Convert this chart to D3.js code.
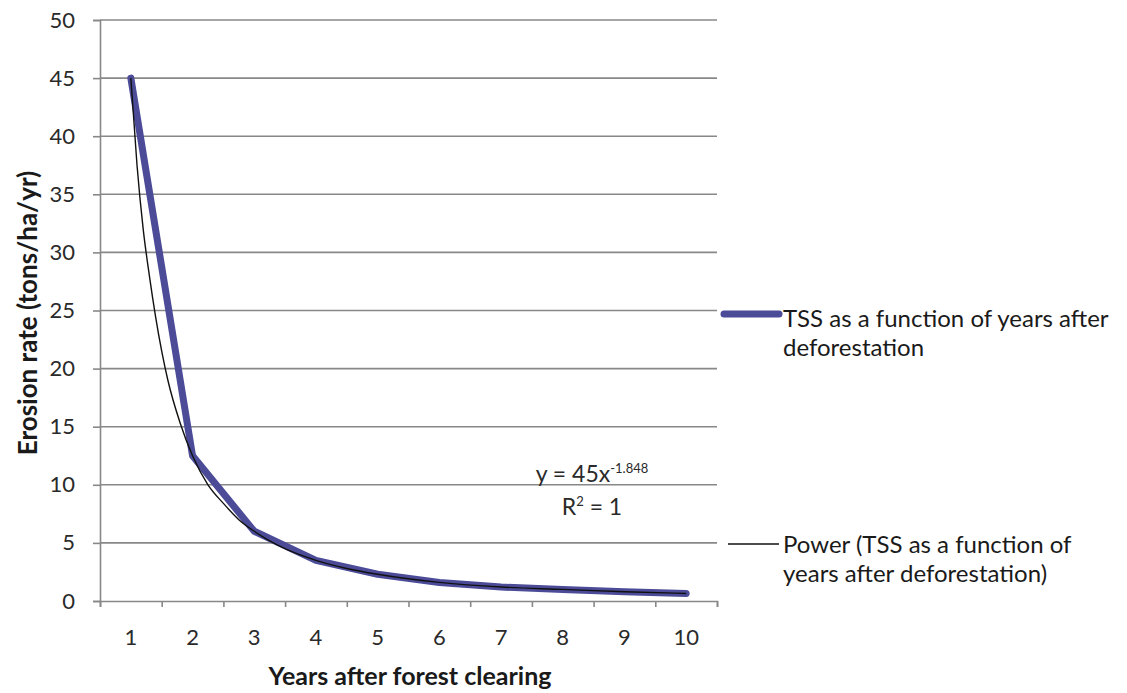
<!DOCTYPE html>
<html>
<head>
<meta charset="utf-8">
<script src="https://cdn.jsdelivr.net/npm/d3@7"></script>
<style>
  body { margin: 0; background: #fff; }
  svg { display: block; font-family: Lato, "Open Sans", sans-serif; }
</style>
</head>
<body>
<svg id="chart" width="1127" height="693"></svg>
<script>
// years after clearing and the TSS series
const years = [1, 2, 3, 4, 5, 6, 7, 8, 9, 10];
const tss = [45, 12.5, 6, 3.5, 2.3, 1.6, 1.2, 1.0, 0.8, 0.65];

// power trendline
const trendX = [1, 1.1, 1.2, 1.3, 1.4, 1.5, 1.6, 1.8, 2, 2.25, 2.5, 2.75, 3, 3.5, 4, 4.5, 5, 6, 7, 8, 9, 10];
const trendY = [45, 37.5, 32, 28, 24.5, 21.5, 19, 15.3, 12.5, 10, 8.4, 7, 6, 4.5, 3.5, 2.8, 2.3, 1.6, 1.2, 1.0, 0.8, 0.65];

const yTicks = [0, 5, 10, 15, 20, 25, 30, 35, 40, 45, 50];

const legendLabels = [
  ["TSS as a function of years after", "deforestation"],
  ["Power (TSS as a function of", "years after deforestation)"]
];

const svg = d3.select('#chart');
const plotLeft = 100, plotRight = 717, plotTop = 20, plotBottom = 601;

const x = d3.scaleLinear().domain([0.5, 10.5]).range([plotLeft, plotRight]);
const y = d3.scaleLinear().domain([0, 50]).range([plotBottom, plotTop]);

const gridColor = '#888';
const seriesColor = '#4b4b98';

// gridlines
svg.append('g')
  .selectAll('line')
  .data(yTicks.filter(d => d > 0))
  .join('line')
  .attr('x1', plotLeft).attr('x2', plotRight)
  .attr('y1', d => y(d)).attr('y2', d => y(d))
  .attr('stroke', gridColor)
  .attr('stroke-width', 1.6);

// y axis
const yAxis = svg.append('g')
  .attr('transform', `translate(${plotLeft},0)`)
  .call(d3.axisLeft(y).tickValues(yTicks).tickSize(7).tickPadding(18));
yAxis.select('.domain').attr('stroke', gridColor).attr('stroke-width', 1.6);
yAxis.selectAll('.tick line').attr('stroke', gridColor).attr('stroke-width', 1.6);
yAxis.selectAll('.tick text')
  .attr('font-size', 22).attr('fill', '#2a2a2a')
  .style('font-family', 'Lato, "Open Sans", sans-serif');

// x axis: tick marks between categories, labels in the middle
const xAxis = svg.append('g')
  .attr('transform', `translate(0,${plotBottom})`)
  .call(d3.axisBottom(x).tickValues(d3.range(0.5, 11, 1)).tickSize(6).tickFormat(''));
xAxis.select('.domain').attr('stroke', gridColor).attr('stroke-width', 1.6);
xAxis.selectAll('.tick line').attr('stroke', gridColor).attr('stroke-width', 1.6);

svg.append('g')
  .selectAll('text')
  .data(years)
  .join('text')
  .attr('x', d => x(d))
  .attr('y', 645)
  .attr('text-anchor', 'middle')
  .attr('font-size', 22)
  .attr('fill', '#2a2a2a')
  .text(d => d);

// axis titles
svg.append('text')
  .attr('x', 410)
  .attr('y', 685)
  .attr('text-anchor', 'middle')
  .attr('font-size', 25)
  .attr('font-weight', 'bold')
  .attr('fill', '#1a1a1a')
  .text('Years after forest clearing');

svg.append('text')
  .attr('transform', 'translate(37,313) rotate(-90)')
  .attr('text-anchor', 'middle')
  .attr('font-size', 26)
  .attr('font-weight', 'bold')
  .attr('fill', '#1a1a1a')
  .text('Erosion rate (tons/ha/yr)');

// data line
const line = d3.line().x(d => x(d[0])).y(d => y(d[1]));

svg.append('path')
  .datum(d3.zip(years, tss))
  .attr('d', line)
  .attr('fill', 'none')
  .attr('stroke', seriesColor)
  .attr('stroke-width', 7)
  .attr('stroke-linejoin', 'round')
  .attr('stroke-linecap', 'round');

// trendline
svg.append('path')
  .datum(d3.zip(trendX, trendY))
  .attr('d', line.curve(d3.curveMonotoneX))
  .attr('fill', 'none')
  .attr('stroke', '#111')
  .attr('stroke-width', 1.4);

// equation
const eq = svg.append('text')
  .attr('x', 592).attr('y', 482)
  .attr('text-anchor', 'middle')
  .attr('font-size', 23)
  .attr('fill', '#2a2a2a');
eq.append('tspan').text('y = 45x');
eq.append('tspan').attr('font-size', 13).attr('dy', -9).text('-1.848');

const r2 = svg.append('text')
  .attr('x', 592).attr('y', 515)
  .attr('text-anchor', 'middle')
  .attr('font-size', 23)
  .attr('fill', '#2a2a2a');
r2.append('tspan').text('R');
r2.append('tspan').attr('font-size', 13).attr('dy', -9).text('2');
r2.append('tspan').attr('dy', 9).text(' = 1');

// legend
const legendLineY = [314, 544];
const legendTextY = [327, 553];
const legend = svg.append('g')
  .selectAll('g')
  .data(legendLabels)
  .join('g');

legend.append('line')
  .attr('x1', (d, i) => i === 0 ? 724 : 728)
  .attr('x2', 779)
  .attr('y1', (d, i) => legendLineY[i])
  .attr('y2', (d, i) => legendLineY[i])
  .attr('stroke', (d, i) => i === 0 ? seriesColor : '#111')
  .attr('stroke-width', (d, i) => i === 0 ? 7 : 1.4)
  .attr('stroke-linecap', (d, i) => i === 0 ? 'round' : 'butt');

legend.append('text')
  .attr('font-size', 24)
  .attr('fill', '#1a1a1a')
  .each(function(d, i) {
    d3.select(this).selectAll('tspan')
      .data(d)
      .join('tspan')
      .attr('x', 783)
      .attr('y', (t, j) => legendTextY[i] + j * 29)
      .text(t => t);
  });
</script>
</body>
</html>
